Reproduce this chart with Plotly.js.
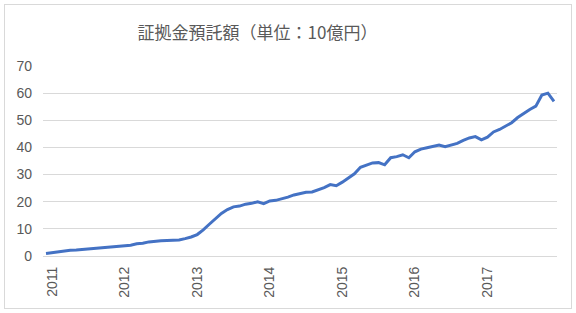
<!DOCTYPE html>
<html>
<head>
<meta charset="utf-8">
<script src="https://cdn.plot.ly/plotly-3.0.1.min.js"></script>
<style>
html,body{margin:0;padding:0;background:#fff;}
#wrap{position:relative;width:576px;height:313px;}
#chart{position:absolute;left:0;top:0;width:576px;height:313px;}
#frame{position:absolute;left:4px;top:4px;width:566px;height:303px;border:1px solid #d9d9d9;pointer-events:none;}
</style>
</head>
<body>
<div id="wrap"><div id="chart"></div><div id="frame"></div></div>
<script>
// Monthly margin deposits (unit: 10 billion yen), Dec 2010 - Dec 2017
const values = [
  0.9, 1.2, 1.5, 1.9, 2.1, 2.2, 2.4, 2.55, 2.7, 2.9, 3.1, 3.4, 3.5,
  3.7, 4.0, 4.5, 4.7, 5.2, 5.5, 5.6, 5.7, 5.75, 5.9, 6.4, 7.0,
  7.9, 9.6, 11.7, 13.7, 15.7, 17.1, 18.1, 18.4, 19.1, 19.4, 20.0, 19.3,
  20.3, 20.5, 21.0, 21.7, 22.5, 23.1, 23.45, 23.6, 24.4, 25.2, 26.3, 25.9,
  27.2, 28.7, 30.3, 32.7, 33.6, 34.3, 34.4, 33.6, 36.2, 36.6, 37.3, 36.2,
  38.4, 39.4, 39.9, 40.5, 40.9, 40.3, 40.9, 41.5, 42.6, 43.5, 44.0, 42.8,
  43.8, 45.7, 46.6, 47.7, 49.1, 51.0, 52.6, 54.0, 55.2, 59.3, 60.0, 57.0
];
const tickIndex = [1, 13, 25, 37, 49, 61, 73];
const tickLabels = ["2011", "2012", "2013", "2014", "2015", "2016", "2017"];
const yTicks = [0, 10, 20, 30, 40, 50, 60, 70];
const titleText = "証拠金預託額（単位：10億円）";

const xs = values.map((v, i) => i);

const trace = {
  x: xs, y: values, type: "scatter", mode: "lines",
  line: {color: "#4472C4", width: 3},
  hoverinfo: "skip"
};

const tickFont = {family: "Liberation Sans, Arial, sans-serif", size: 14, color: "#595959"};

const layout = {
  width: 576, height: 313,
  margin: {l: 43, r: 19, t: 66, b: 57, pad: 0},
  paper_bgcolor: "#ffffff", plot_bgcolor: "#ffffff",
  showlegend: false,
  title: {
    text: titleText,
    font: {family: "Noto Sans CJK JP, sans-serif", size: 17, color: "#595959"},
    x: 0.447, xref: "container", xanchor: "center",
    y: 0.895, yref: "container", yanchor: "middle"
  },
  xaxis: {
    range: [-0.5, values.length - 0.5],
    tickmode: "array", tickvals: tickIndex, ticktext: tickLabels,
    tickangle: -90, tickfont: tickFont,
    showgrid: false, zeroline: false,
    showline: true, linecolor: "#d9d9d9", linewidth: 1,
    ticks: "", ticklabelstandoff: 4
  },
  yaxis: {
    range: [0, 70],
    tickmode: "array", tickvals: yTicks,
    tickfont: tickFont,
    showgrid: true, gridcolor: "#d9d9d9", gridwidth: 1,
    zeroline: false, showline: false,
    ticks: "", ticklabelstandoff: 10
  }
};

Plotly.newPlot("chart", [trace], layout, {displayModeBar: false, staticPlot: true});
</script>
</body>
</html>
